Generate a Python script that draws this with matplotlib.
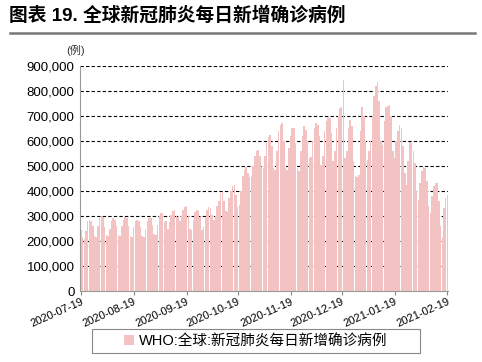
import matplotlib
matplotlib.use('Agg')
import matplotlib.pyplot as plt
import matplotlib.dates as mdates
import numpy as np
import pandas as pd

plt.rcParams['font.family'] = ['Liberation Sans', 'Noto Sans CJK SC', 'DejaVu Sans']

start = '2020-07-19'
# daily new cases (thousands), one row per week starting Sunday
weeks = [
    [245, 215, 210, 240, 280, 285, 280],
    [260, 220, 215, 260, 290, 300, 295],
    [255, 225, 220, 250, 280, 290, 285],
    [260, 225, 220, 260, 285, 295, 290],
    [260, 220, 215, 255, 280, 285, 280],
    [255, 220, 218, 250, 280, 290, 292],
    [265, 228, 225, 265, 300, 312, 310],
    [275, 280, 250, 275, 305, 320, 324],
    [300, 295, 280, 300, 325, 335, 338],
    [300, 250, 245, 285, 315, 325, 320],
    [295, 245, 255, 290, 325, 335, 330],
    [305, 285, 300, 340, 360, 390, 397],
    [360, 320, 315, 370, 400, 420, 424],
    [385, 335, 345, 400, 460, 485, 497],
    [470, 455, 460, 500, 540, 560, 564],
    [540, 495, 490, 540, 590, 615, 624],
    [580, 490, 485, 560, 640, 665, 673],
    [600, 490, 485, 570, 620, 650, 652],
    [590, 490, 480, 560, 620, 660, 645],
    [600, 530, 535, 600, 650, 672, 665],
    [620, 505, 540, 640, 680, 697, 692],
    [630, 520, 560, 650, 700, 730, 737],
    [844, 533, 560, 650, 684, 660, 520],
    [460, 455, 465, 640, 737, 700, 600],
    [524, 560, 600, 700, 780, 820, 837],
    [760, 600, 584, 680, 735, 740, 745],
    [700, 560, 532, 600, 640, 664, 650],
    [580, 470, 424, 520, 597, 590, 560],
    [510, 400, 364, 430, 480, 497, 490],
    [440, 340, 312, 380, 420, 432, 430],
    [360, 260, 217, 330, 370, 384],
]
cases = np.array([v for w in weeks for v in w]) * 1000
dates = pd.date_range(start, periods=len(cases), freq='D')
tick_dates = pd.to_datetime(['2020-07-19', '2020-08-19', '2020-09-19', '2020-10-19',
                             '2020-11-19', '2020-12-19', '2021-01-19', '2021-02-19'])

fig = plt.figure(figsize=(4.82, 3.62), dpi=100)
ax = fig.add_axes([0.166, 0.196, 0.764, 0.622])

ax.bar(dates, cases, width=0.9, color='#f3c3c3', edgecolor='none',
       label='WHO:全球:新冠肺炎每日新增确诊病例', zorder=2)

ax.set_ylim(0, 900000)
ax.set_yticks(np.arange(0, 900001, 100000))
ax.yaxis.set_major_formatter(matplotlib.ticker.FuncFormatter(lambda v, p: f'{int(v):,}'))
ax.set_xlim(tick_dates[0] - pd.Timedelta(days=0.5), tick_dates[-1] + pd.Timedelta(days=0.5))
ax.set_xticks(tick_dates)
ax.xaxis.set_major_formatter(mdates.DateFormatter('%Y-%m-%d'))
plt.setp(ax.get_xticklabels(), rotation=24, ha='right', rotation_mode='anchor', fontsize=8)
ax.tick_params(axis='y', length=0, labelsize=9.5, pad=4)
ax.tick_params(axis='x', length=3, color='#888888', pad=1)
ax.grid(axis='y', linestyle=(0, (3, 2)), color='black', linewidth=0.8, zorder=1)
for s in ['top', 'right']:
    ax.spines[s].set_visible(False)
ax.spines['left'].set_color('#999999')
ax.spines['bottom'].set_color('#999999')

fig.text(0.018, 0.958, '图表 19. 全球新冠肺炎每日新增确诊病例', fontsize=13.5, fontweight='bold',
         va='center', ha='left')
fig.add_artist(plt.Line2D([0.02, 0.985], [0.908, 0.908], color='#777777', linewidth=1.8))
fig.text(0.138, 0.86, '(例)', fontsize=8, color='#333333', va='center')

# legend box
fig.add_artist(plt.Rectangle((0.191, 0.026), 0.68, 0.064, transform=fig.transFigure,
                             fill=False, edgecolor='#888888', linewidth=0.8))
fig.legend(loc='center', bbox_to_anchor=(0.53, 0.058), fontsize=10.5, frameon=False,
           handlelength=0.7, handleheight=0.7, borderpad=0.2, handletextpad=0.3)

fig.savefig('out.png', dpi=100)
